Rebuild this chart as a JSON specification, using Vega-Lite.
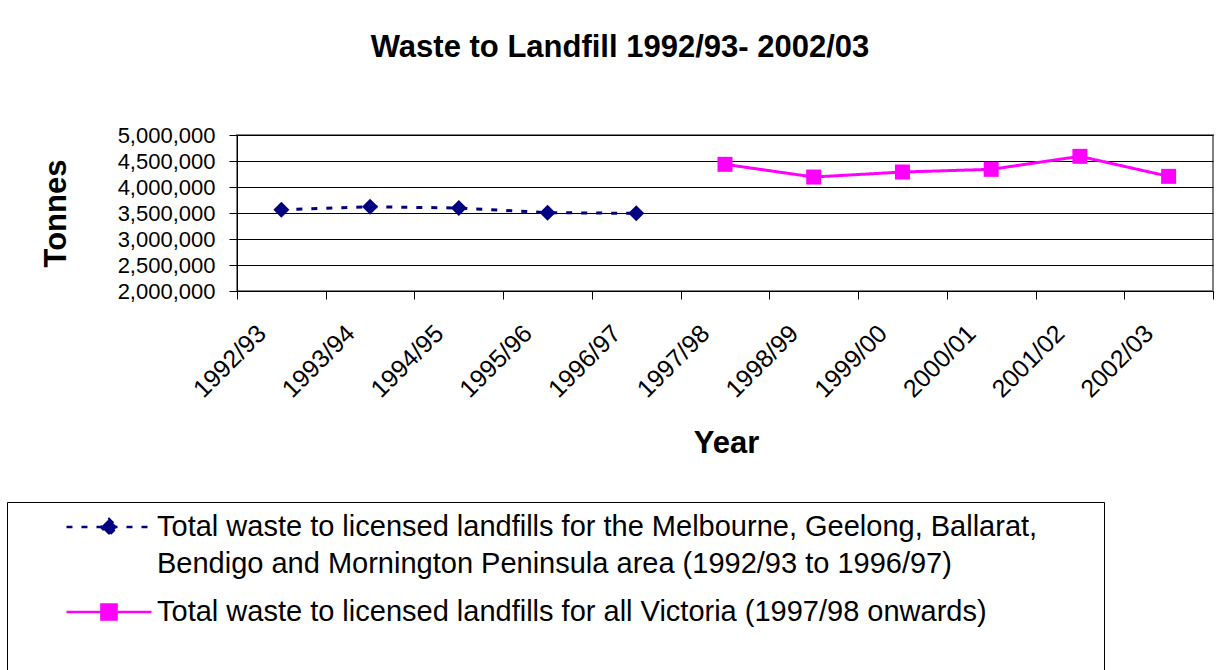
{
  "$schema": "https://vega.github.io/schema/vega-lite/v6.json",
  "width": 976,
  "height": 156,
  "autosize": {"type": "none"},
  "padding": {"left": 237, "top": 135, "right": 16, "bottom": 379},
  "background": "white",
  "config": {
    "font": "Liberation Sans",
    "view": {"stroke": "#808080", "strokeWidth": 2}
  },
  "title": {
    "text": "Waste to Landfill 1992/93- 2002/03",
    "fontSize": 31,
    "fontWeight": "bold",
    "color": "black",
    "anchor": "middle",
    "dx": -105,
    "offset": 36,
    "baseline": "alphabetic"
  },
  "data": {
    "values": [
      {"year": "1992/93", "series": "Total waste to licensed landfills for the Melbourne, Geelong, Ballarat,\nBendigo and Mornington Peninsula area (1992/93 to 1996/97)", "tonnes": 3564000},
      {"year": "1993/94", "series": "Total waste to licensed landfills for the Melbourne, Geelong, Ballarat,\nBendigo and Mornington Peninsula area (1992/93 to 1996/97)", "tonnes": 3620000},
      {"year": "1994/95", "series": "Total waste to licensed landfills for the Melbourne, Geelong, Ballarat,\nBendigo and Mornington Peninsula area (1992/93 to 1996/97)", "tonnes": 3596000},
      {"year": "1995/96", "series": "Total waste to licensed landfills for the Melbourne, Geelong, Ballarat,\nBendigo and Mornington Peninsula area (1992/93 to 1996/97)", "tonnes": 3506000},
      {"year": "1996/97", "series": "Total waste to licensed landfills for the Melbourne, Geelong, Ballarat,\nBendigo and Mornington Peninsula area (1992/93 to 1996/97)", "tonnes": 3494000},
      {"year": "1997/98", "series": "Total waste to licensed landfills for all Victoria (1997/98 onwards)", "tonnes": 4436000},
      {"year": "1998/99", "series": "Total waste to licensed landfills for all Victoria (1997/98 onwards)", "tonnes": 4192000},
      {"year": "1999/00", "series": "Total waste to licensed landfills for all Victoria (1997/98 onwards)", "tonnes": 4288000},
      {"year": "2000/01", "series": "Total waste to licensed landfills for all Victoria (1997/98 onwards)", "tonnes": 4340000},
      {"year": "2001/02", "series": "Total waste to licensed landfills for all Victoria (1997/98 onwards)", "tonnes": 4590000},
      {"year": "2002/03", "series": "Total waste to licensed landfills for all Victoria (1997/98 onwards)", "tonnes": 4205000}
    ]
  },
  "encoding": {
    "x": {
      "field": "year",
      "type": "ordinal",
      "scale": {"type": "band", "paddingInner": 0, "paddingOuter": 0},
      "axis": {
        "title": "Year",
        "titleFontSize": 31,
        "titleFontWeight": "bold",
        "titleColor": "black",
        "titleX": 489,
        "titleY": 152,
        "titleBaseline": "middle",
        "titleAlign": "center",
        "labelAngle": -45,
        "labelAlign": "right",
        "labelBaseline": "middle",
        "labelFontSize": 25,
        "labelColor": "black",
        "labelPadding": 30,
        "labelOffset": -20,
        "labelOverlap": false,
        "tickBand": "extent",
        "tickSize": 8,
        "tickColor": "black",
        "domainColor": "black",
        "grid": false
      }
    },
    "y": {
      "field": "tonnes",
      "type": "quantitative",
      "scale": {"domain": [2000000, 5000000], "nice": false, "zero": false},
      "axis": {
        "title": "Tonnes",
        "titleFontSize": 31,
        "titleFontWeight": "bold",
        "titleColor": "black",
        "titleX": -181,
        "titleY": 78,
        "titleAngle": -90,
        "titleBaseline": "middle",
        "titleAlign": "center",
        "values": [2000000, 2500000, 3000000, 3500000, 4000000, 4500000, 5000000],
        "format": ",.0f",
        "labelFontSize": 22,
        "labelColor": "black",
        "labelPadding": 14,
        "labelOverlap": false,
        "labelFlush": false,
        "tickSize": 8,
        "tickColor": "black",
        "domainColor": "black",
        "gridColor": "black",
        "gridWidth": 1,
        "gridOpacity": 1
      }
    },
    "color": {
      "field": "series",
      "type": "nominal",
      "scale": {
        "domain": [
          "Total waste to licensed landfills for the Melbourne, Geelong, Ballarat,\nBendigo and Mornington Peninsula area (1992/93 to 1996/97)",
          "Total waste to licensed landfills for all Victoria (1997/98 onwards)"
        ],
        "range": ["#000080", "#FF00FF"]
      },
      "legend": {
        "orient": "none",
        "legendX": -230,
        "legendY": 367,
        "title": "\u00a0",
        "titleOrient": "bottom",
        "titleFontSize": 60,
        "titlePadding": 10,
        "padding": 10,
        "strokeColor": "black",
        "fillColor": "white",
        "labelFontSize": 29,
        "labelColor": "black",
        "labelLimit": 1500,
        "labelExpr": "length(split(datum.label, '\\n')) > 1 ? [split(datum.label, '\\n')[0] + '\\u00a0\\u00a0\\u00a0\\u00a0\\u00a0\\u00a0\\u00a0\\u200b', split(datum.label, '\\n')[1]] : datum.label",
        "labelBaseline": "middle",
        "labelOffset": 33,
        "symbolSize": 729,
        "symbolOffset": 77,
        "symbolStrokeWidth": 2.5,
        "rowPadding": 18,
        "encode": {
          "labels": {"update": {"lineHeight": {"value": 37}}},
          "symbols": {
            "update": {
              "size": {"value": 729},
              "shape": {"signal": "indexof(datum.value, 'Melbourne') >= 0 ? 'M-3.15,0H3.15M0,-0.6L0.6,0L0,0.6L-0.6,0Z' : 'M-3.15,0H3.15M-0.56,-0.56H0.56V0.56H-0.56Z'"},
              "fill": {"signal": "indexof(datum.value, 'Melbourne') >= 0 ? '#000080' : '#FF00FF'"},
              "stroke": {"signal": "indexof(datum.value, 'Melbourne') >= 0 ? '#000080' : '#FF00FF'"},
              "strokeDash": {"signal": "indexof(datum.value, 'Melbourne') >= 0 ? [6, 6] : [1, 0]"},
              "strokeWidth": {"value": 2.5},
              "opacity": {"value": 1},
              "fillOpacity": {"value": 1}
            }
          }
        }
      }
    }
  },
  "layer": [
    {
      "mark": {"type": "line", "strokeWidth": 3},
      "encoding": {
        "strokeDash": {
          "field": "series",
          "type": "nominal",
          "scale": {
            "domain": [
              "Total waste to licensed landfills for the Melbourne, Geelong, Ballarat,\nBendigo and Mornington Peninsula area (1992/93 to 1996/97)",
              "Total waste to licensed landfills for all Victoria (1997/98 onwards)"
            ],
            "range": [[6, 9], [1, 0]]
          },
          "legend": null
        }
      }
    },
    {
      "transform": [{"filter": "indexof(datum.series, 'Melbourne') >= 0"}],
      "mark": {"type": "point", "filled": true, "opacity": 1, "shape": "diamond", "size": 256}
    },
    {
      "transform": [{"filter": "indexof(datum.series, 'Melbourne') < 0"}],
      "mark": {"type": "point", "filled": true, "opacity": 1, "shape": "square", "size": 225}
    }
  ]
}
